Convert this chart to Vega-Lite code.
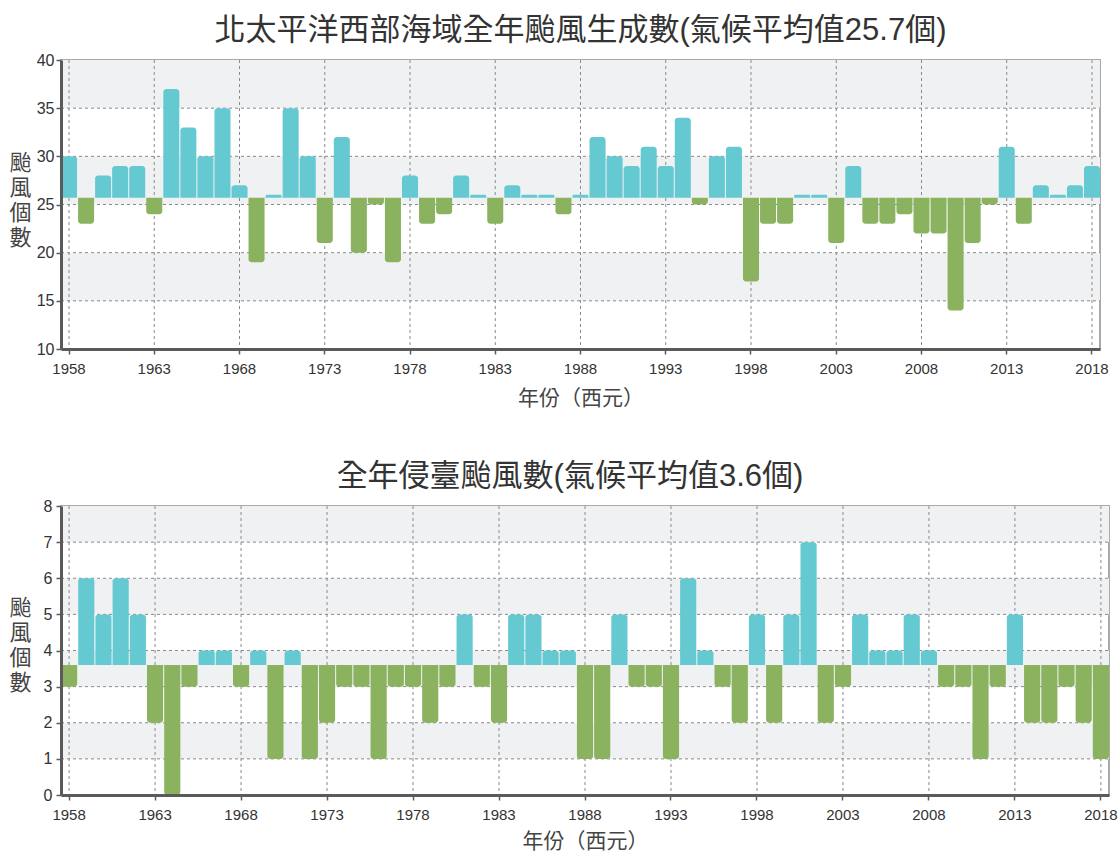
{
  "$schema": "https://vega.github.io/schema/vega-lite/v6.json",
  "background": "white",
  "padding": {"left": 7, "top": 14, "right": 5, "bottom": 0},
  "spacing": 51,
  "config": {
    "font": "Liberation Sans, Noto Sans CJK TC",
    "view": {"stroke": "#aaaaaa", "strokeWidth": 2},
    "title": {"font": "Liberation Sans, Noto Sans CJK TC", "fontSize": 31, "fontWeight": "normal", "color": "#333333", "offset": 5}
  },
  "datasets": {
    "genesis": [
      {"year": 1958, "n": 30}, {"year": 1959, "n": 23}, {"year": 1960, "n": 28}, {"year": 1961, "n": 29}, {"year": 1962, "n": 29},
      {"year": 1963, "n": 24}, {"year": 1964, "n": 37}, {"year": 1965, "n": 33}, {"year": 1966, "n": 30}, {"year": 1967, "n": 35},
      {"year": 1968, "n": 27}, {"year": 1969, "n": 19}, {"year": 1970, "n": 26}, {"year": 1971, "n": 35}, {"year": 1972, "n": 30},
      {"year": 1973, "n": 21}, {"year": 1974, "n": 32}, {"year": 1975, "n": 20}, {"year": 1976, "n": 25}, {"year": 1977, "n": 19},
      {"year": 1978, "n": 28}, {"year": 1979, "n": 23}, {"year": 1980, "n": 24}, {"year": 1981, "n": 28}, {"year": 1982, "n": 26},
      {"year": 1983, "n": 23}, {"year": 1984, "n": 27}, {"year": 1985, "n": 26}, {"year": 1986, "n": 26}, {"year": 1987, "n": 24},
      {"year": 1988, "n": 26}, {"year": 1989, "n": 32}, {"year": 1990, "n": 30}, {"year": 1991, "n": 29}, {"year": 1992, "n": 31},
      {"year": 1993, "n": 29}, {"year": 1994, "n": 34}, {"year": 1995, "n": 25}, {"year": 1996, "n": 30}, {"year": 1997, "n": 31},
      {"year": 1998, "n": 17}, {"year": 1999, "n": 23}, {"year": 2000, "n": 23}, {"year": 2001, "n": 26}, {"year": 2002, "n": 26},
      {"year": 2003, "n": 21}, {"year": 2004, "n": 29}, {"year": 2005, "n": 23}, {"year": 2006, "n": 23}, {"year": 2007, "n": 24},
      {"year": 2008, "n": 22}, {"year": 2009, "n": 22}, {"year": 2010, "n": 14}, {"year": 2011, "n": 21}, {"year": 2012, "n": 25},
      {"year": 2013, "n": 31}, {"year": 2014, "n": 23}, {"year": 2015, "n": 27}, {"year": 2016, "n": 26}, {"year": 2017, "n": 27},
      {"year": 2018, "n": 29}
    ],
    "taiwan": [
      {"year": 1958, "n": 3}, {"year": 1959, "n": 6}, {"year": 1960, "n": 5}, {"year": 1961, "n": 6}, {"year": 1962, "n": 5},
      {"year": 1963, "n": 2}, {"year": 1964, "n": 0}, {"year": 1965, "n": 3}, {"year": 1966, "n": 4}, {"year": 1967, "n": 4},
      {"year": 1968, "n": 3}, {"year": 1969, "n": 4}, {"year": 1970, "n": 1}, {"year": 1971, "n": 4}, {"year": 1972, "n": 1},
      {"year": 1973, "n": 2}, {"year": 1974, "n": 3}, {"year": 1975, "n": 3}, {"year": 1976, "n": 1}, {"year": 1977, "n": 3},
      {"year": 1978, "n": 3}, {"year": 1979, "n": 2}, {"year": 1980, "n": 3}, {"year": 1981, "n": 5}, {"year": 1982, "n": 3},
      {"year": 1983, "n": 2}, {"year": 1984, "n": 5}, {"year": 1985, "n": 5}, {"year": 1986, "n": 4}, {"year": 1987, "n": 4},
      {"year": 1988, "n": 1}, {"year": 1989, "n": 1}, {"year": 1990, "n": 5}, {"year": 1991, "n": 3}, {"year": 1992, "n": 3},
      {"year": 1993, "n": 1}, {"year": 1994, "n": 6}, {"year": 1995, "n": 4}, {"year": 1996, "n": 3}, {"year": 1997, "n": 2},
      {"year": 1998, "n": 5}, {"year": 1999, "n": 2}, {"year": 2000, "n": 5}, {"year": 2001, "n": 7}, {"year": 2002, "n": 2},
      {"year": 2003, "n": 3}, {"year": 2004, "n": 5}, {"year": 2005, "n": 4}, {"year": 2006, "n": 4}, {"year": 2007, "n": 5},
      {"year": 2008, "n": 4}, {"year": 2009, "n": 3}, {"year": 2010, "n": 3}, {"year": 2011, "n": 1}, {"year": 2012, "n": 3},
      {"year": 2013, "n": 5}, {"year": 2014, "n": 2}, {"year": 2015, "n": 2}, {"year": 2016, "n": 3}, {"year": 2017, "n": 2},
      {"year": 2018, "n": 1}
    ],
    "gridYears": [
      {"year": 1958}, {"year": 1963}, {"year": 1968}, {"year": 1973}, {"year": 1978}, {"year": 1983}, {"year": 1988},
      {"year": 1993}, {"year": 1998}, {"year": 2003}, {"year": 2008}, {"year": 2013}, {"year": 2018}
    ]
  },
  "vconcat": [
    {
      "width": 1039,
      "height": 289,
      "title": {"text": "北太平洋西部海域全年颱風生成數(氣候平均值25.7個)"},
      "encoding": {
        "x": {"field": "year", "type": "ordinal", "scale": {"paddingInner": 0.06, "paddingOuter": 0},
          "axis": {"values": [1958, 1963, 1968, 1973, 1978, 1983, 1988, 1993, 1998, 2003, 2008, 2013, 2018], "grid": false, "zindex": 1,
            "labelAngle": 0, "labelFontSize": 15, "labelColor": "#333333", "labelFlush": false, "labelOverlap": false, "labelPadding": 7,
            "domainColor": "#5a5a5a", "domainWidth": 3, "tickColor": "#5a5a5a", "tickSize": 5, "tickWidth": 1.5, "bandPosition": 0.5,
            "title": "年份（西元）", "titleFont": "Noto Sans CJK TC", "titleFontWeight": "normal", "titleColor": "#444444", "titleFontSize": 21, "titlePadding": 11}},
        "y": {"field": "n", "type": "quantitative", "scale": {"domain": [10, 40], "nice": false},
          "axis": {"values": [10, 15, 20, 25, 30, 35, 40], "grid": false, "zindex": 1,
            "labelFontSize": 16, "labelColor": "#333333", "labelFlush": false, "labelOverlap": false, "labelPadding": 2,
            "domainColor": "#5a5a5a", "domainWidth": 3, "tickColor": "#5a5a5a", "tickSize": 5, "tickWidth": 1.5,
            "title": ["颱", "風", "個", "數"], "titleFont": "Noto Sans CJK TC", "titleFontWeight": "normal", "titleColor": "#444444",
            "titleFontSize": 22, "titleLineHeight": 25, "titleAngle": 0, "titleAlign": "center", "titleBaseline": "top",
            "titleX": -41, "titleY": 92}}
      },
      "layer": [
        {
          "data": {"values": [{"n": 35, "n2": 40}, {"n": 25, "n2": 30}, {"n": 15, "n2": 20}]},
          "mark": {"type": "rect", "color": "#f0f1f3"},
          "encoding": {"y2": {"field": "n2"}, "x": {"value": 0}, "x2": {"value": "width"}}
        },
        {
          "data": {"values": [{"n": 15}, {"n": 20}, {"n": 25}, {"n": 30}, {"n": 35}]},
          "mark": {"type": "rule", "color": "#8a8a8a", "strokeDash": [3, 3], "strokeWidth": 1},
          "encoding": {"x": {"value": 0}, "x2": {"value": "width"}}
        },
        {
          "data": {"name": "gridYears"},
          "mark": {"type": "rule", "color": "#8a8a8a", "strokeDash": [3, 3], "strokeWidth": 1},
          "encoding": {"y": {"value": 0}, "y2": {"value": "height"}}
        },
        {
          "data": {"name": "genesis"},
          "transform": [{"filter": "datum.n >= 25.7"}],
          "mark": {"type": "bar", "color": "#65c9d1", "cornerRadiusTopLeft": 3, "cornerRadiusTopRight": 3},
          "encoding": {"y2": {"datum": 25.7}}
        },
        {
          "data": {"name": "genesis"},
          "transform": [{"filter": "datum.n < 25.7"}],
          "mark": {"type": "bar", "color": "#8bb35f", "cornerRadiusBottomLeft": 3, "cornerRadiusBottomRight": 3},
          "encoding": {"y2": {"datum": 25.7}}
        }
      ]
    },
    {
      "width": 1048,
      "height": 289,
      "title": {"text": "全年侵臺颱風數(氣候平均值3.6個)", "dx": -15},
      "encoding": {
        "x": {"field": "year", "type": "ordinal", "scale": {"paddingInner": 0.06, "paddingOuter": 0},
          "axis": {"values": [1958, 1963, 1968, 1973, 1978, 1983, 1988, 1993, 1998, 2003, 2008, 2013, 2018], "grid": false, "zindex": 1,
            "labelAngle": 0, "labelFontSize": 15, "labelColor": "#333333", "labelFlush": false, "labelOverlap": false, "labelPadding": 7,
            "domainColor": "#5a5a5a", "domainWidth": 3, "tickColor": "#5a5a5a", "tickSize": 5, "tickWidth": 1.5, "bandPosition": 0.5,
            "title": "年份（西元）", "titleFont": "Noto Sans CJK TC", "titleFontWeight": "normal", "titleColor": "#444444", "titleFontSize": 21, "titlePadding": 8}},
        "y": {"field": "n", "type": "quantitative", "scale": {"domain": [0, 8], "nice": false},
          "axis": {"values": [0, 1, 2, 3, 4, 5, 6, 7, 8], "grid": false, "zindex": 1,
            "labelFontSize": 16, "labelColor": "#333333", "labelFlush": false, "labelOverlap": false, "labelPadding": 4,
            "domainColor": "#5a5a5a", "domainWidth": 3, "tickColor": "#5a5a5a", "tickSize": 5, "tickWidth": 1.5,
            "title": ["颱", "風", "個", "數"], "titleFont": "Noto Sans CJK TC", "titleFontWeight": "normal", "titleColor": "#444444",
            "titleFontSize": 22, "titleLineHeight": 25, "titleAngle": 0, "titleAlign": "center", "titleBaseline": "top",
            "titleX": -41, "titleY": 91}}
      },
      "layer": [
        {
          "data": {"values": [{"n": 7, "n2": 8}, {"n": 5, "n2": 6}, {"n": 3, "n2": 4}, {"n": 1, "n2": 2}]},
          "mark": {"type": "rect", "color": "#f0f1f3"},
          "encoding": {"y2": {"field": "n2"}, "x": {"value": 0}, "x2": {"value": "width"}}
        },
        {
          "data": {"values": [{"n": 1}, {"n": 2}, {"n": 3}, {"n": 4}, {"n": 5}, {"n": 6}, {"n": 7}]},
          "mark": {"type": "rule", "color": "#8a8a8a", "strokeDash": [3, 3], "strokeWidth": 1},
          "encoding": {"x": {"value": 0}, "x2": {"value": "width"}}
        },
        {
          "data": {"name": "gridYears"},
          "mark": {"type": "rule", "color": "#8a8a8a", "strokeDash": [3, 3], "strokeWidth": 1},
          "encoding": {"y": {"value": 0}, "y2": {"value": "height"}}
        },
        {
          "data": {"name": "taiwan"},
          "transform": [{"filter": "datum.n >= 3.6"}],
          "mark": {"type": "bar", "color": "#65c9d1", "cornerRadiusTopLeft": 3, "cornerRadiusTopRight": 3},
          "encoding": {"y2": {"datum": 3.6}}
        },
        {
          "data": {"name": "taiwan"},
          "transform": [{"filter": "datum.n < 3.6"}],
          "mark": {"type": "bar", "color": "#8bb35f", "cornerRadiusBottomLeft": 3, "cornerRadiusBottomRight": 3},
          "encoding": {"y2": {"datum": 3.6}}
        }
      ]
    }
  ]
}
